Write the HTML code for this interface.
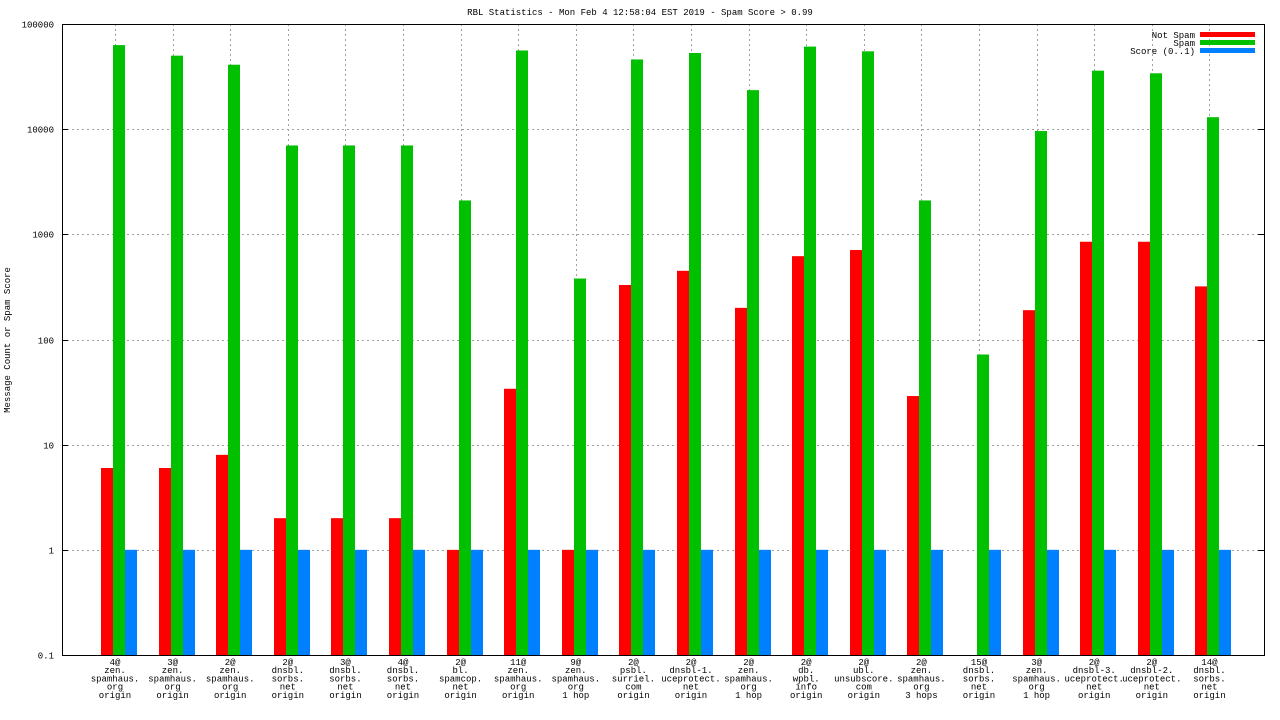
<!DOCTYPE html>
<html><head><meta charset="utf-8"><style>
html,body{margin:0;padding:0;background:#fff;}
svg{display:block;font-family:"Liberation Mono","DejaVu Sans Mono",monospace;}
</style></head><body>
<svg id="chart" width="1280" height="720" viewBox="0 0 1280 720" xmlns="http://www.w3.org/2000/svg">
<text x="640" y="15" font-size="9" text-anchor="middle">RBL Statistics - Mon Feb  4 12:58:04 EST 2019 - Spam Score &gt; 0.99</text>
<text x="10" y="340" font-size="9" text-anchor="middle" transform="rotate(-90 10 340)">Message Count or Spam Score</text>
<g id="grid"></g><g id="bars"></g><g id="axes"></g><g id="labels"></g>
<g>
<text x="1195" y="38" font-size="9" text-anchor="end">Not Spam</text>
<rect x="1200" y="32" width="55" height="5" fill="#ff0000"/>
<text x="1195" y="46" font-size="9" text-anchor="end">Spam</text>
<rect x="1200" y="40" width="55" height="5" fill="#00c000"/>
<text x="1195" y="54" font-size="9" text-anchor="end">Score (0..1)</text>
<rect x="1200" y="48" width="55" height="5" fill="#0080ff"/>
</g>
</svg>
<script>
const categories = [
["4@","zen.","spamhaus.","org","origin"],["3@","zen.","spamhaus.","org","origin"],["2@","zen.","spamhaus.","org","origin"],
["2@","dnsbl.","sorbs.","net","origin"],["3@","dnsbl.","sorbs.","net","origin"],["4@","dnsbl.","sorbs.","net","origin"],
["2@","bl.","spamcop.","net","origin"],["11@","zen.","spamhaus.","org","origin"],["9@","zen.","spamhaus.","org","1 hop"],
["2@","psbl.","surriel.","com","origin"],["2@","dnsbl-1.","uceprotect.","net","origin"],["2@","zen.","spamhaus.","org","1 hop"],
["2@","db.","wpbl.","info","origin"],["2@","ubl.","unsubscore.","com","origin"],["2@","zen.","spamhaus.","org","3 hops"],
["15@","dnsbl.","sorbs.","net","origin"],["3@","zen.","spamhaus.","org","1 hop"],["2@","dnsbl-3.","uceprotect.","net","origin"],
["2@","dnsbl-2.","uceprotect.","net","origin"],["14@","dnsbl.","sorbs.","net","origin"]];
const notSpam = [6,6,8,2,2,2,1,34,1,330,450,200,620,710,29,null,190,850,850,320];
const spam = [63000,50000,41000,7000,7000,7000,2100,56000,380,46000,53000,23500,61000,55000,2100,72,9600,36000,34000,13000];
const score = [1,1,1,1,1,1,1,1,1,1,1,1,1,1,1,1,1,1,1,1];
const yTicks = [0.1,1,10,100,1000,10000,100000];
const yTickLabels = ["0.1","1","10","100","1000","10000","100000"];

const NS="http://www.w3.org/2000/svg";
const L=62,R=1264,T=24,B=655;
const y=v=>B-(Math.log10(v)+1)*(B-T)/6;
const xc=i=>119+57.6*i;
function mk(tag,attrs,parent){const e=document.createElementNS(NS,tag);for(const k in attrs)e.setAttribute(k,attrs[k]);document.getElementById(parent).appendChild(e);return e;}
yTicks.forEach((t,k)=>{
  const yy=Math.round(y(t))+0.5;
  if(k>0&&k<yTicks.length-1){const g=mk('line',{x1:L,x2:R,y1:yy,y2:yy,stroke:'#a0a0a0','stroke-dasharray':'2,3','stroke-width':1},'grid');
  
  }
  const tx=mk('text',{x:54,y:yy+3,'font-size':9,'text-anchor':'end'},'labels');tx.textContent=yTickLabels[k];
  
  
  mk('line',{x1:L,x2:L+6,y1:yy,y2:yy,stroke:'#000'},'axes');
  mk('line',{x1:R-6,x2:R,y1:yy,y2:yy,stroke:'#000'},'axes');
});
categories.forEach((c,i)=>{
  const cx=xc(i);const gx=Math.round(cx-4)+0.5;
  const g=mk('line',{x1:gx,x2:gx,y1:T,y2:B,stroke:'#a0a0a0','stroke-dasharray':'2,3'},'grid');
  
  
  const series=[[notSpam[i],'#ff0000',-18,'bar-not-spam'],[spam[i],'#00c000',-6,'bar-spam'],[score[i],'#0080ff',6,'bar-score']];
  series.forEach(([v,col,off,nm])=>{
    if(v==null)return;
    const top=y(v);
    const r=mk('rect',{x:Math.round(cx+off),y:top,width:12,height:B-top,fill:col},'bars');
    
    
  });
  c.forEach((line,j)=>{
    const t=mk('text',{x:cx-4,y:665+8.2*j,'font-size':9,'text-anchor':'middle'},'labels');
    t.textContent=line;
    
    
  });
});
const ax=mk('rect',{x:L+0.5,y:T+0.5,width:R-L,height:B-T,fill:'none',stroke:'#000'},'axes');


</script>
</body></html>
